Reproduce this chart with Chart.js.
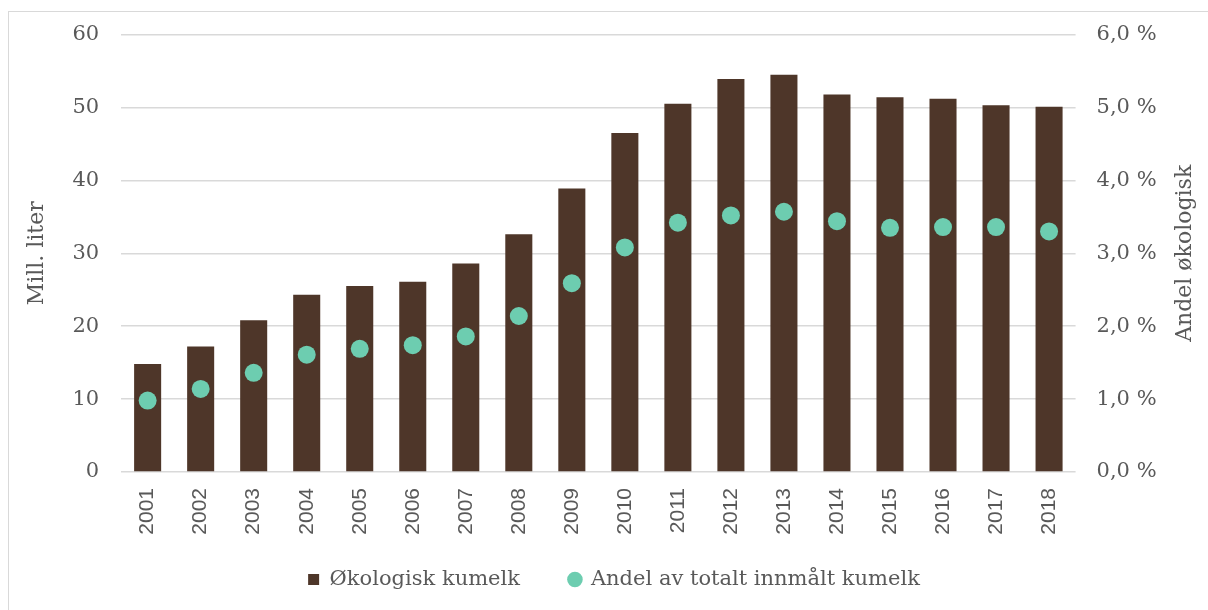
<!DOCTYPE html>
<html>
<head>
<meta charset="utf-8">
<script src="https://cdn.jsdelivr.net/npm/chart.js@4.4.1/dist/chart.umd.min.js"></script>
<style>
  html, body { margin: 0; padding: 0; background: #fff; }
  #wrap { position: relative; width: 1208px; height: 610px; overflow: hidden; }
  #frame { position: absolute; left: 8px; top: 11px; right: -5px; bottom: -5px; border: 1.5px solid #d9d9d9; }
  canvas { position: absolute; left: 0; top: 0; }
</style>
</head>
<body>
<div id="wrap">
  <div id="frame"></div>
  <canvas id="myChart" width="1208" height="610"></canvas>
</div>
<script>
// years on the x axis
const years = ['2001', '2002', '2003', '2004', '2005', '2006', '2007', '2008', '2009',
    '2010', '2011', '2012', '2013', '2014', '2015', '2016', '2017', '2018'];

// organic cow milk, million litres
const organicMilk = [14.8, 17.2, 20.8, 24.3, 25.5, 26.1, 28.6, 32.6, 38.9,
    46.5, 50.5, 53.9, 54.5, 51.8, 51.4, 51.2, 50.3, 50.1];

// share of total delivered cow milk, percent
const organicShare = [0.98, 1.14, 1.36, 1.61, 1.69, 1.74, 1.86, 2.14, 2.59,
    3.08, 3.42, 3.52, 3.57, 3.44, 3.35, 3.36, 3.36, 3.30];

const leftTicks = [0, 10, 20, 30, 40, 50, 60];
const rightTicks = [0, 1, 2, 3, 4, 5, 6];

const grey = '#595959';
const serif = "'DejaVu Serif', serif";

// Chart.js rotates a right axis title top-to-bottom, the original reads bottom-to-top
const rightTitle = {
    id: 'rightTitle',
    afterDraw(chart) {
        const s = chart.scales.y1;
        const ctx = chart.ctx;
        ctx.save();
        ctx.translate(s.right - 19, (chart.chartArea.top + chart.chartArea.bottom) / 2);
        ctx.rotate(-Math.PI / 2);
        ctx.font = '22px ' + serif;
        ctx.fillStyle = grey;
        ctx.textAlign = 'center';
        ctx.textBaseline = 'middle';
        ctx.fillText('Andel økologisk', 0, 0);
        ctx.restore();
    }
};

const data = {
    labels: years,
    datasets: [{
        type: 'line',
        label: 'Andel av totalt innmålt kumelk',
        data: organicShare,
        yAxisID: 'y1',
        showLine: false,
        pointStyle: 'circle',
        pointRadius: 9,
        pointHoverRadius: 9,
        pointBackgroundColor: '#6dcdb0',
        pointBorderWidth: 0,
        backgroundColor: '#6dcdb0',
        borderColor: '#6dcdb0',
        order: 1
    }, {
        type: 'bar',
        label: 'Økologisk kumelk',
        data: organicMilk,
        yAxisID: 'y',
        backgroundColor: '#4e3629',
        borderColor: '#4e3629',
        borderWidth: 0,
        barPercentage: 0.51,
        categoryPercentage: 1,
        pointStyle: 'rect',
        order: 2
    }]
};

const config = {
    data: data,
    plugins: [rightTitle],
    options: {
        responsive: false,
        animation: false,
        layout: { padding: { left: 24, right: 4, top: 30, bottom: 10 } },
        plugins: {
            tooltip: { enabled: false },
            legend: {
                position: 'bottom',
                reverse: true,
                labels: {
                    usePointStyle: true,
                    boxWidth: 11,
                    boxHeight: 11,
                    padding: 18,
                    color: grey,
                    font: { family: serif, size: 21 },
                    generateLabels(chart) {
                        const items = Chart.defaults.plugins.legend.labels.generateLabels(chart);
                        // wider gap after the first legend entry
                        items.forEach(it => { if (it.datasetIndex === 1) it.text += '\u2002\u2002\u2002'; });
                        return items;
                    }
                }
            }
        },
        scales: {
            x: {
                grid: { display: false, drawTicks: false },
                border: { display: false },
                ticks: {
                    color: grey,
                    padding: 16,
                    minRotation: 90,
                    maxRotation: 90,
                    font: { family: "'Liberation Sans', sans-serif", size: 21 }
                },
                afterFit(s) { s.height = 79; }
            },
            y: {
                position: 'left',
                min: 0,
                max: 60,
                afterBuildTicks(s) { s.ticks = leftTicks.map(v => ({ value: v })); },
                grid: { color: '#d9d9d9', lineWidth: 1.5, drawTicks: false },
                border: { display: false },
                ticks: {
                    color: grey,
                    padding: 22,
                    font: { family: serif, size: 21 }
                },
                title: {
                    display: true,
                    text: 'Mill. liter',
                    color: grey,
                    padding: { top: 0, bottom: 0 },
                    font: { family: serif, size: 22 }
                }
            },
            y1: {
                position: 'right',
                min: 0,
                max: 6,
                afterBuildTicks(s) { s.ticks = rightTicks.map(v => ({ value: v })); },
                grid: { drawOnChartArea: false, drawTicks: false },
                border: { display: false },
                ticks: {
                    color: grey,
                    padding: 21,
                    font: { family: serif, size: 21 },
                    callback: v => v.toFixed(1).replace('.', ',') + ' %'
                },
                title: {
                    display: true,
                    text: 'Andel økologisk',
                    color: 'rgba(0,0,0,0)',
                    padding: { top: 0, bottom: 0 },
                    font: { family: serif, size: 22 }
                }
            }
        }
    }
};

const myChart = new Chart(
    document.getElementById('myChart'),
    config
);
</script>
</body>
</html>
